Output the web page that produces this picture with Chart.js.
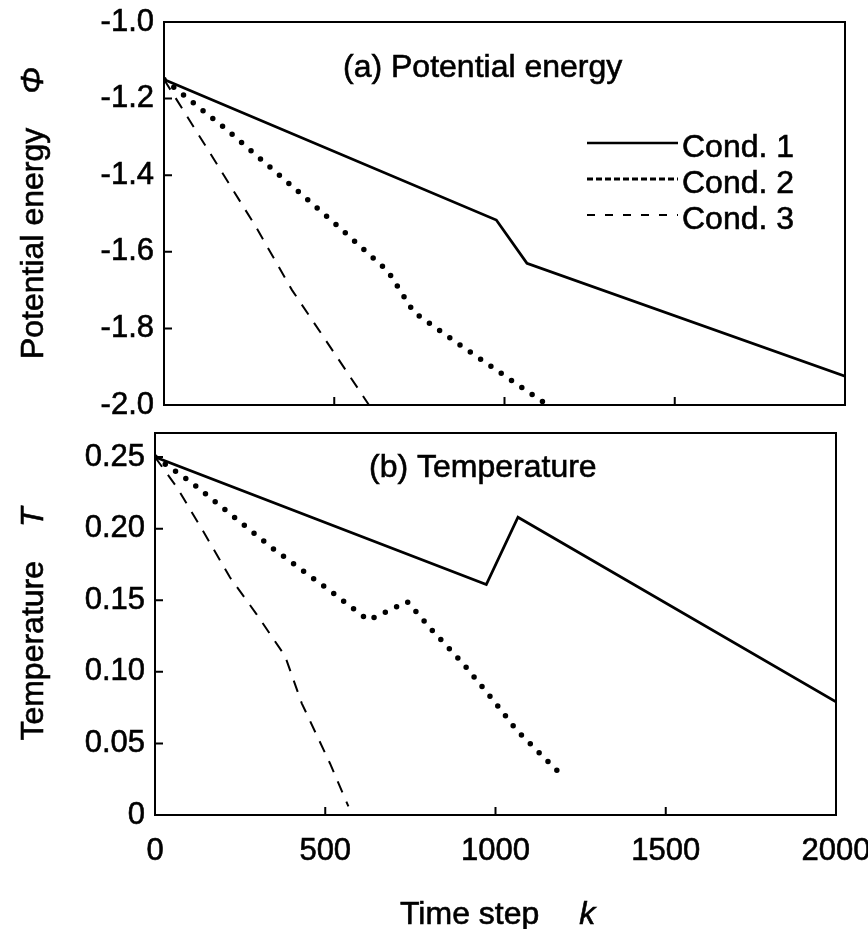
<!DOCTYPE html>
<html>
<head>
<meta charset="utf-8">
<script src="https://cdn.jsdelivr.net/npm/chart.js@4.4.1/dist/chart.umd.min.js"></script>
<style>
  html, body { margin: 0; padding: 0; background: #fff; }
  body { width: 868px; height: 929px; position: relative; overflow: hidden; font-family: "Liberation Sans", Arial, sans-serif; color: #000; }
  .panel { position: absolute; left: 0; width: 868px; }
  #panelA { top: 0; height: 430px; }
  #panelB { top: 420px; height: 509px; }
  .axis-title { position: absolute; font-size: 32px; line-height: 32px; height: 32px; white-space: nowrap; -webkit-text-stroke: 0.6px #000; }
  .rot { width: 400px; text-align: center; transform: rotate(-90deg); }
</style>
</head>
<body>
<div class="panel" id="panelA"><canvas id="chartA"></canvas></div>
<div class="panel" id="panelB"><canvas id="chartB"></canvas></div>
<div class="axis-title rot" style="left:-168px; top:197px;">Potential energy<i style="margin-left:34px">Φ</i></div>
<div class="axis-title rot" style="left:-168px; top:608px;">Temperature<i style="margin-left:34px">T</i></div>
<div class="axis-title" style="left:400px; top:897px;">Time step<i style="margin-left:40px">k</i></div>
<script>
// tick values
const stepTicks = [0, 500, 1000, 1500, 2000];
const phiTicks = [-2.0, -1.8, -1.6, -1.4, -1.2, -1.0];
const tempTicks = [0, 0.05, 0.10, 0.15, 0.20, 0.25];

// (a) potential energy
const phiStep1 = [0, 976, 1066, 2000];
const phiCond1 = [-1.15, -1.517, -1.63, -1.925];
const phiStep2 = [0, 180, 387, 498, 657, 734, 872, 1121];
const phiCond2 = [-1.15, -1.278, -1.437, -1.523, -1.65, -1.758, -1.845, -1.997];
const phiStep3 = [0, 161, 270, 376, 512, 602];
const phiCond3 = [-1.15, -1.379, -1.535, -1.70, -1.88, -2.0];

// (b) temperature
const tempStep1 = [0, 973, 1066, 2000];
const tempCond1 = [0.25, 0.161, 0.208, 0.079];
const tempStep2 = [0, 103, 347, 523, 627, 741, 814, 904, 994, 1063, 1181];
const tempCond2 = [0.25, 0.233, 0.186, 0.155, 0.136, 0.149, 0.129, 0.106, 0.080, 0.059, 0.031];
const tempStep3 = [0, 64, 142, 220, 299, 382, 431, 514, 568];
const tempCond3 = [0.25, 0.229, 0.198, 0.166, 0.140, 0.111, 0.078, 0.036, 0.006];

const condNames = ["Cond. 1", "Cond. 2", "Cond. 3"];

const FONT = '"Liberation Sans", Arial, sans-serif';
const toPoints = (xs, ys) => xs.map((x, i) => ({ x, y: ys[i] }));

const lineStyles = [
  { borderWidth: 2.8, borderDash: [], borderCapStyle: "butt" },
  { borderWidth: 5.5, borderDash: [0, 12.5], borderCapStyle: "round" },
  { borderWidth: 2, borderDash: [12, 10], borderCapStyle: "butt" },
];
const legendStyles = [
  { width: 2.5, dash: [] },
  { width: 3, dash: [6, 3] },
  { width: 2, dash: [8, 10] },
];

const makeDatasets = (series) =>
  series.map(([xs, ys], i) => ({
    label: condNames[i],
    data: toPoints(xs, ys),
    borderColor: "#000",
    backgroundColor: "#000",
    fill: false,
    tension: 0,
    pointRadius: 0,
    ...lineStyles[i],
  }));

const framePlugin = {
  id: "frame",
  afterDraw(chart, args, opts) {
    const { ctx, chartArea: a, scales } = chart;
    ctx.save();
    ctx.strokeStyle = "#000";
    ctx.lineWidth = 2;
    ctx.setLineDash([]);
    ctx.strokeRect(a.left, a.top, a.right - a.left, a.bottom - a.top);

    // tick marks point into the plot
    ctx.beginPath();
    scales.x.ticks.forEach((t) => {
      const px = scales.x.getPixelForValue(t.value);
      ctx.moveTo(px, a.bottom);
      ctx.lineTo(px, a.bottom - 8);
    });
    scales.y.ticks.forEach((t) => {
      const py = scales.y.getPixelForValue(t.value);
      ctx.moveTo(a.left, py);
      ctx.lineTo(a.left + 8, py);
    });
    ctx.stroke();

    const label = (text, x, y) => {
      ctx.lineWidth = 0.6;
      ctx.fillText(text, x, y);
      ctx.strokeText(text, x, y);
    };

    ctx.fillStyle = "#000";
    ctx.font = "32px " + FONT;
    ctx.textBaseline = "alphabetic";
    label(opts.title, opts.titleX, opts.titleY);

    if (opts.legend) {
      const lg = opts.legend;
      chart.data.datasets.forEach((ds, i) => {
        const base = lg.y + i * lg.gap;
        ctx.beginPath();
        ctx.lineWidth = legendStyles[i].width;
        ctx.setLineDash(legendStyles[i].dash);
        ctx.moveTo(lg.x, base - 14);
        ctx.lineTo(lg.x + lg.len, base - 14);
        ctx.stroke();
        ctx.setLineDash([]);
        label(ds.label, lg.x + lg.len + 4, base);
      });
    }
    ctx.restore();
  },
};

const makeOptions = (cfg) => ({
  responsive: true,
  maintainAspectRatio: false,
  animation: false,
  layout: { padding: cfg.padding },
  plugins: {
    legend: { display: false },
    tooltip: { enabled: false },
    frame: cfg.frame,
  },
  scales: {
    x: {
      type: "linear",
      min: 0,
      max: 2000,
      grid: { display: false, drawTicks: false },
      border: { display: false },
      afterBuildTicks: (s) => { s.ticks = stepTicks.map((v) => ({ value: v })); },
      afterFit: (s) => { s.height = cfg.xHeight; s.paddingLeft = 0; s.paddingRight = 0; },
      ticks: {
        display: cfg.xLabels,
        color: "#000",
        textStrokeColor: "#000",
        textStrokeWidth: 0.6,
        padding: 18,
        maxRotation: 0,
        font: { family: FONT, size: 31 },
        callback: (v) => String(v),
      },
    },
    y: {
      type: "linear",
      min: cfg.yMin,
      max: cfg.yMax,
      grid: { display: false, drawTicks: false },
      border: { display: false },
      afterBuildTicks: (s) => { s.ticks = cfg.yTicks.map((v) => ({ value: v })); },
      afterFit: (s) => { s.width = cfg.yWidth; s.paddingTop = 0; s.paddingBottom = 0; },
      ticks: {
        color: "#000",
        textStrokeColor: "#000",
        textStrokeWidth: 0.6,
        padding: 10,
        font: { family: FONT, size: 31 },
        callback: cfg.yFormat,
      },
    },
  },
});

new Chart(document.getElementById("chartA"), {
  type: "line",
  data: {
    datasets: makeDatasets([
      [phiStep1, phiCond1],
      [phiStep2, phiCond2],
      [phiStep3, phiCond3],
    ]),
  },
  options: makeOptions({
    padding: { left: 0, top: 22, right: 23, bottom: 25 },
    xHeight: 0,
    xLabels: false,
    yMin: -2.0,
    yMax: -1.0,
    yTicks: phiTicks,
    yWidth: 164,
    yFormat: (v) => v.toFixed(1),
    frame: {
      title: "(a) Potential energy",
      titleX: 343,
      titleY: 77,
      legend: { x: 587, y: 157, gap: 36, len: 91 },
    },
  }),
  plugins: [framePlugin],
});

new Chart(document.getElementById("chartB"), {
  type: "line",
  data: {
    datasets: makeDatasets([
      [tempStep1, tempCond1],
      [tempStep2, tempCond2],
      [tempStep3, tempCond3],
    ]),
  },
  options: makeOptions({
    padding: { left: 0, top: 13, right: 32, bottom: 0 },
    xHeight: 114,
    xLabels: true,
    yMin: 0,
    yMax: 0.2668,
    yTicks: tempTicks,
    yWidth: 155,
    yFormat: (v) => (v === 0 ? "0" : v.toFixed(2)),
    frame: {
      title: "(b) Temperature",
      titleX: 369,
      titleY: 57,
    },
  }),
  plugins: [framePlugin],
});
</script>
</body>
</html>
